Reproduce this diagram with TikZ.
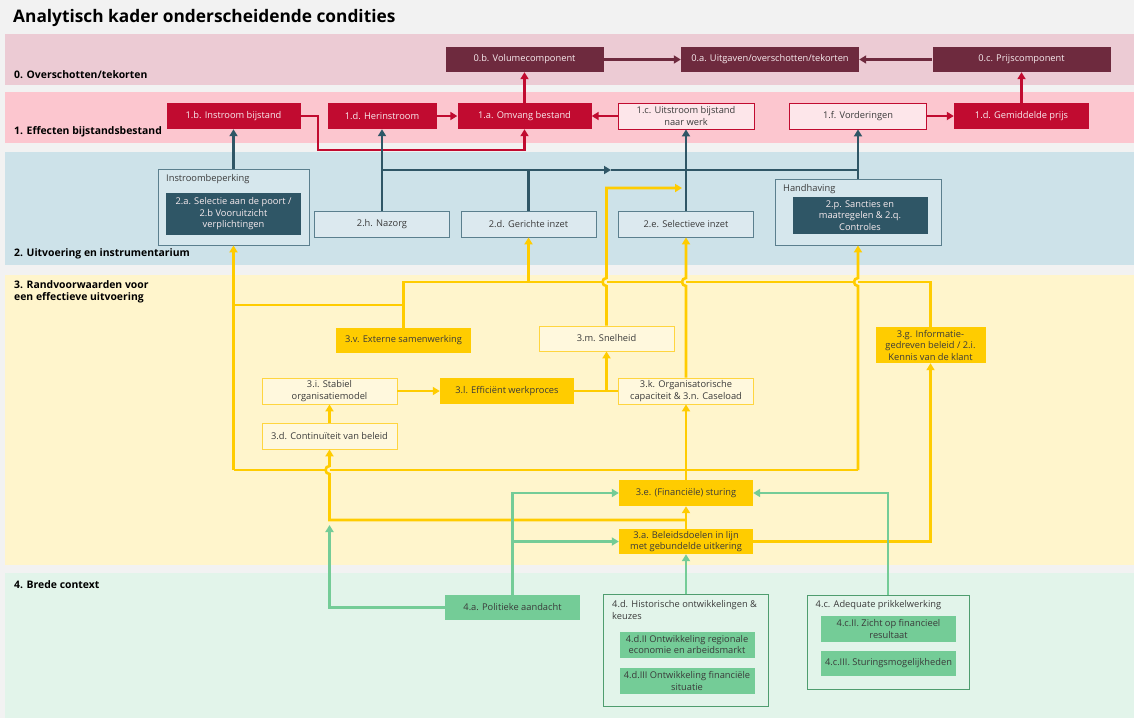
\documentclass[tikz,border=0pt]{standalone}
\usepackage{fontspec}
\setmainfont{Open Sans}
\usetikzlibrary{arrows.meta,positioning}

\definecolor{backgr}{HTML}{F2F2F2}
\definecolor{band0}{HTML}{ECCBD4}
\definecolor{band1}{HTML}{FCC6CF}
\definecolor{band2}{HTML}{CDE2E9}
\definecolor{band3}{HTML}{FFF5CC}
\definecolor{band4}{HTML}{E2F4EA}
\definecolor{maroon}{HTML}{6E2A3E}
\definecolor{crimson}{HTML}{C10B30}
\definecolor{pinkfill}{HTML}{FDE6EA}
\definecolor{petrol}{HTML}{2F5666}
\definecolor{petrolline}{HTML}{5B7F8E}
\definecolor{bluefill}{HTML}{DCE9EF}
\definecolor{bluegroup}{HTML}{D6E7ED}
\definecolor{gold}{HTML}{FFCC00}
\definecolor{goldline}{HTML}{FFD53F}
\definecolor{yellowfill}{HTML}{FFF8DD}
\definecolor{mint}{HTML}{74CC97}
\definecolor{mintdark}{HTML}{4F9D6F}
\definecolor{darktext}{HTML}{3A3A3A}
\definecolor{boxwhite}{HTML}{F8ECEF}

\begin{document}
\begin{tikzpicture}[x=1pt,y=-1pt,
  basebox/.style={rectangle,inner sep=1pt,minimum width=135pt,minimum height=26pt,align=center,font=\fontsize{9.3}{11.5}\selectfont},
  mbox/.style={basebox,fill=maroon,text=boxwhite,minimum height=25pt},
  rbox/.style={basebox,fill=crimson,text=boxwhite},
  rout/.style={basebox,fill=pinkfill,draw=crimson,line width=0.8pt,text=darktext},
  tbox/.style={basebox,fill=petrol,text=boxwhite},
  tout/.style={basebox,fill=bluefill,draw=petrolline,line width=0.8pt,text=darktext},
  tgroup/.style={rectangle,inner sep=0pt,draw=petrolline,line width=0.8pt,fill=bluegroup},
  ybox/.style={basebox,fill=gold,text=darktext},
  yout/.style={basebox,fill=yellowfill,draw=goldline,line width=0.8pt,text=darktext},
  gbox/.style={basebox,fill=mint,text=darktext},
  ggroup/.style={rectangle,inner sep=0pt,draw=mintdark,line width=0.8pt,fill=band4},
  grouplabel/.style={anchor=west,inner sep=0pt,align=left,font=\fontsize{9.3}{11.5}\selectfont,text=darktext},
  bandlabel/.style={anchor=west,inner sep=0pt,align=left,font=\bfseries\fontsize{10.4}{11.8}\selectfont,text=black},
  wire/.style={line width=2.6pt},
  arr/.style={wire,-{Triangle[length=7pt,width=8pt]}},
]
\fill[backgr] (0,0) rectangle (1134,718);
\useasboundingbox (0,0) rectangle (1134,718);
\fill[band0] (5,34) rectangle (1134,85);
\fill[band1] (5,92) rectangle (1134,143);
\fill[band2] (5,152) rectangle (1134,265);
\fill[band3] (5,275) rectangle (1134,565);
\fill[band4] (5,573) rectangle (1134,718);

\node[anchor=west,inner sep=0pt,font=\bfseries\fontsize{17.3}{20}\selectfont] (title) at (13,18) {Analytisch kader onderscheidende condities};
\node[bandlabel] (l0) at (14,75) {0. Overschotten/tekorten};
\node[bandlabel] (l1) at (14,132) {1. Effecten bijstandsbestand};
\node[bandlabel] (l2) at (14,254) {2. Uitvoering en instrumentarium};
\node[bandlabel] (l3) at (14,291.5) {3. Randvoorwaarden voor\\een effectieve uitvoering};
\node[bandlabel] (l4) at (14,585) {4. Brede context};

\node[mbox,minimum width=158pt] (n0b) at (524.5,59.5) {0.b. Volumecomponent};
\node[mbox,minimum width=178pt] (n0a) at (770,59.5) {0.a. Uitgaven/overschotten/tekorten};
\node[mbox,minimum width=178pt] (n0c) at (1021.5,59.5) {0.c. Prijscomponent};

\node[rbox,minimum width=134pt] (n1b) at (233.5,116) {1.b. Instroom bijstand};
\node[rbox,minimum width=109pt] (n1d) at (382,116) {1.d. Herinstroom};
\node[rbox,minimum width=134pt] (n1a) at (524.5,116) {1.a. Omvang bestand};
\node[rout,minimum width=136pt] (n1c) at (686,116) {1.c. Uitstroom bijstand\\naar werk};
\node[rout,minimum width=137pt] (n1f) at (858,116) {1.f. Vorderingen};
\node[rbox] (n1g) at (1021.5,116) {1.d. Gemiddelde prijs};

\node[tgroup,minimum width=151pt,minimum height=76pt] (gI) at (233.5,207) {};
\node[grouplabel] (lI) at (166,179) {Instroombeperking};
\node[tbox,minimum height=42pt] (n2a) at (233.5,214) {2.a. Selectie aan de poort /\\2.b Vooruitzicht\\verplichtingen};
\node[tout] (n2h) at (382,224) {2.h. Nazorg};
\node[tout] (n2d) at (528.5,224) {2.d. Gerichte inzet};
\node[tout] (n2e) at (686,224) {2.e. Selectieve inzet};
\node[tgroup,minimum width=166pt,minimum height=66pt] (gH) at (858,212) {};
\node[grouplabel] (lH) at (783,189) {Handhaving};
\node[tbox,minimum height=37pt] (n2p) at (860,215.5) {2.p. Sancties en\\maatregelen \& 2.q.\\Controles};

\node[ybox,minimum height=25pt] (n3v) at (403.5,340.5) {3.v. Externe samenwerking};
\node[yout,minimum height=25pt] (n3m) at (606.5,338.5) {3.m. Snelheid};
\node[yout] (n3i) at (329.5,391) {3.i. Stabiel\\organisatiemodel};
\node[ybox,minimum width=134pt] (n3l) at (507,391) {3.l. Efficiënt werkproces};
\node[yout] (n3k) at (686,391) {3.k. Organisatorische\\capaciteit \& 3.n. Caseload};
\node[yout] (n3d) at (329.5,436) {3.d. Continuïteit van beleid};
\node[ybox,minimum width=110pt,minimum height=36pt] (n3g) at (930.5,345) {3.g. Informatie-\\gedreven beleid / 2.i.\\Kennis van de klant};
\node[ybox,minimum width=134pt] (n3e) at (686,493) {3.e. (Financiële) sturing};
\node[ybox,minimum width=134pt,minimum height=25pt] (n3a) at (686,541.5) {3.a. Beleidsdoelen in lijn\\met gebundelde uitkering};

\node[gbox,minimum height=25pt] (n4a) at (512.5,607.5) {4.a. Politieke aandacht};
\node[ggroup,minimum width=165pt,minimum height=112pt] (g4d) at (686,650) {};
\node[grouplabel] (l4d) at (612,610) {4.d. Historische ontwikkelingen \&\\keuzes};
\node[gbox] (n4d2) at (687,644.5) {4.d.II Ontwikkeling regionale\\economie en arbeidsmarkt};
\node[gbox] (n4d3) at (687,681) {4.d.III Ontwikkeling financiële\\situatie};
\node[ggroup,minimum width=162pt,minimum height=94pt] (g4c) at (888,642) {};
\node[grouplabel] (l4c) at (815.5,605) {4.c. Adequate prikkelwerking};
\node[gbox,minimum height=26pt] (n4c2) at (888.5,629) {4.c.II. Zicht op financieel\\resultaat};
\node[gbox,minimum height=25pt] (n4c3) at (888.5,663.5) {4.c.III. Sturingsmogelijkheden};

\coordinate (rb) at (318,150);
\coordinate (tj) at (382,170);
\coordinate (tm) at (611,170);
\coordinate (hm) at (606.5,282);
\coordinate (hk) at (686,282);
\coordinate (hh) at (858,282);
\coordinate (hd) at (329.5,470);
\coordinate (yl) at (233.5,305);
\coordinate (yb) at (233.5,470);
\coordinate (yr) at (858,470);
\coordinate (yd) at (329.5,520);
\coordinate (ys) at (682,188);
\coordinate (gd) at (329.5,525);

\draw[arr,maroon] (n0b.east) -- (n0a.west);
\draw[arr,maroon] (n0c.west) -- (n0a.east);

\draw[arr,crimson] (n1a.north) -- (n0b.south);
\draw[arr,crimson] (n1g.north) -- (n0c.south);
\draw[arr,crimson] (n1d.east) -- (n1a.west);
\draw[arr,crimson] (n1c.west) -- (n1a.east);
\draw[arr,crimson] (n1f.east) -- (n1g.west);
\draw[arr,crimson] (n1b.east) -| (rb) -| (n1a.south);

\draw[arr,petrol] (gI.north) -- (n1b.south);
\draw[arr,petrol] (n2h.north) -- (n1d.south);
\draw[arr,petrol] (tj) -- (tm);
\draw[arr,petrol] (tm) -| (n1f.south);
\draw[wire,petrol] (n2d.north) -- (n2d.north |- tj);
\draw[wire,petrol] (gH.north) -- (gH.north |- tj);
\draw[arr,petrol] (n2e.north) -- (n1c.south);

\draw[wire,gold] (n3v.north) |- ([xshift=-4pt]hm);
\draw[wire,gold] (hm) -- ([xshift=-4pt]hk);
\draw[wire,gold] (hk) -- ([xshift=-4pt]hh);
\draw[wire,gold] (hh) -| (n3g.north);
\draw[wire,gold] (yl) -- (yl -| n3v.north);
\draw[arr,gold] (n2d.south |- hm) -- (n2d.south);
\draw[arr,gold] (n3m.north) -- ([yshift=-4pt]hm) arc[start angle=-90,end angle=-270,radius=4pt] |- (ys);
\draw[arr,gold] (n3k.north) -- ([yshift=-4pt]hk) arc[start angle=-90,end angle=-270,radius=4pt] -- (n2e.south);
\draw[arr,gold] (yr) -- ([yshift=-4pt]hh) arc[start angle=-90,end angle=-270,radius=4pt] -- (gH.south);
\draw[arr,gold] (yb) -- (gI.south);
\draw[wire,gold] (yb) -- ([xshift=-4pt]hd);
\draw[wire,gold] (hd) -- (yr);
\draw[arr,gold] (n3e.north) -- (n3k.south);
\draw[arr,gold] (n3a.north) -- (n3e.south);
\draw[arr,gold] (n3a.north |- yd) -- (yd) -- ([yshift=-4pt]hd) arc[start angle=-90,end angle=-270,radius=4pt] -- (n3d.south);
\draw[arr,gold] (n3a.east) -| (n3g.south);
\draw[arr,gold] (n3i.east) -- (n3l.west);
\draw[arr,gold] (n3d.north) -- (n3i.south);
\draw[wire,gold] (n3l.east) -- (n3k.west);
\draw[arr,gold] (n3l.east -| n3m.south) -- (n3m.south);

\draw[arr,mint] (n4a.west) -| (gd);
\draw[arr,mint] (n4a.north) |- (n3e.west);
\draw[arr,mint] (n4a.north) |- (n3a.west);
\draw[arr,mint] (g4d.north) -- (n3a.south);
\draw[arr,mint] (g4c.north) |- (n3e.east);
\end{tikzpicture}
\end{document}
